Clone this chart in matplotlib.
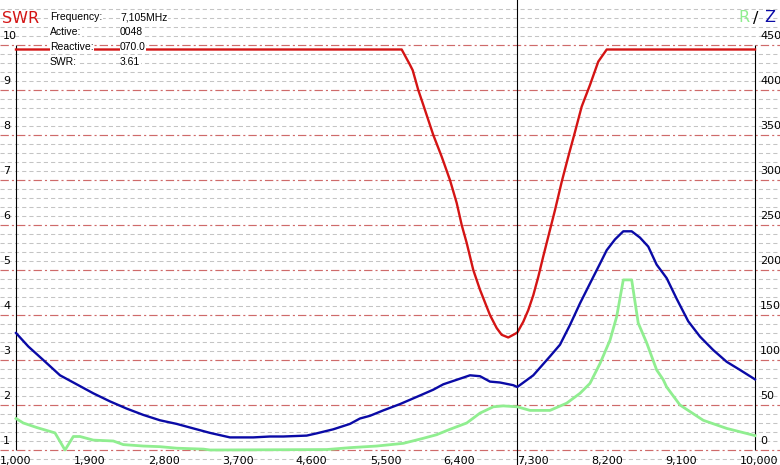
import numpy as np
import matplotlib
matplotlib.use("Agg")
import matplotlib.pyplot as plt
import matplotlib.transforms as mtransforms

# analyser sweep, frequency in kHz
swr_freq = [1000, 5697, 5798, 5831, 5899, 5960, 6082, 6184, 6285, 6367,
            6428, 6489, 6569, 6651, 6772, 6854, 6915, 6995, 7077, 7105,
            7178, 7239, 7300, 7361, 7421, 7503, 7564, 7646, 7726, 7808,
            7889, 7990, 8091, 8194, 10000]
swr_vals = [9.9, 9.9, 9.56, 9.44, 9.0, 8.67, 8.0, 7.52, 7.0, 6.49,
            6.0, 5.6, 5.0, 4.56, 4.0, 3.71, 3.56, 3.50, 3.58, 3.61,
            3.85, 4.11, 4.44, 4.85, 5.30, 5.89, 6.33, 6.96, 7.52, 8.07,
            8.63, 9.11, 9.63, 9.9, 9.9]

z_freq = [1000, 1150, 1332, 1536, 1739, 1941, 2145, 2348, 2550, 2754,
          2957, 3159, 3363, 3606, 3890, 4093, 4255, 4540, 4662, 4864,
          5067, 5189, 5311, 5473, 5676, 5880, 6082, 6204, 6367, 6529,
          6651, 6772, 6894, 7056, 7105, 7300, 7503, 7625, 7747, 7869,
          7990, 8112, 8194, 8295, 8396, 8498, 8599, 8700, 8802, 8924,
          9046, 9187, 9330, 9492, 9655, 9817, 10000]
z_vals = [130, 115, 100, 83, 73, 63, 54, 46, 39, 33,
          29, 24, 19, 14, 14, 15, 15, 16, 18.5, 23,
          29, 35, 38, 44, 51, 59, 67, 73, 78, 83,
          82, 76, 75, 72, 70, 83, 104, 117, 139, 163,
          185, 207, 222, 234, 243, 243, 236, 226, 206, 191,
          168, 143, 126, 111, 98, 89, 78.5]

r_freq = [1000, 1089, 1252, 1475, 1597, 1698, 1779, 1941, 2185, 2307,
          2550, 2754, 2957, 3281, 3363, 4784, 5067, 5393, 5717, 5960,
          6123, 6285, 6489, 6651, 6813, 6935, 7105, 7260, 7503, 7706,
          7869, 7990, 8112, 8234, 8315, 8396, 8498, 8578, 8681, 8802,
          8883, 8924, 9086, 9370, 9655, 10000]
r_vals = [35, 30, 25, 19, 0, 15, 15, 11, 10, 6,
          4.4, 3.7, 2, 1, 0, 0.5, 2.6, 4.4, 7.4, 13,
          17, 23, 30, 41, 48, 49, 48, 44, 44, 52,
          63, 74, 96, 122, 148, 189, 189, 141, 119, 89,
          78, 70, 50, 33, 24, 16]

freq_ticks = [1000, 1900, 2800, 3700, 4600, 5500, 6400, 7300, 8200, 9100, 10000]
swr_ticks = list(range(1, 11))
ohm_ticks = list(range(0, 451, 50))

cursor_freq = 7105
info_labels = ["Frequency:", "Active:", "Reactive:", "SWR:"]
info_values = ["7,105MHz", "0048", "070.0", "3.61"]

W, H = 780, 465
PX_L, PX_R = 16, 755          # pixel columns of 1,000 and 10,000
PX_TOP, PX_BOT = 45, 450      # pixel rows of SWR 10 and SWR 1

RED = "#d41414"
BLUE = "#0a0aa6"
GREEN = "#90ee90"

plt.rcParams["lines.scale_dashes"] = False

fig = plt.figure(figsize=(W / 100, H / 100), dpi=100)
ax = fig.add_axes([0, 0, 1, 1])
ax2 = ax.twinx()

kpp = 9000 / (PX_R - PX_L)
ax.set_xlim(1000 - PX_L * kpp, 10000 + (W - PX_R) * kpp)
spp = 9 / (PX_BOT - PX_TOP)
ax.set_ylim(1 - (H - PX_BOT) * spp, 10 + PX_TOP * spp)
opp = 450 / (PX_BOT - PX_TOP)
ax2.set_ylim(0 - (H - PX_BOT) * opp, 450 + PX_TOP * opp)
ax.axis("off")
ax2.axis("off")

# grid: light grey every 0.2 SWR, red dash-dot on whole numbers
for lvl in np.arange(0.8, 10.85, 0.2):
    if abs(lvl - round(lvl)) > 0.01:
        ax.axhline(lvl, color="#c4c4c4", lw=0.75, dashes=(3, 2.2), zorder=1)
for lvl in swr_ticks:
    ax.axhline(lvl, color="#cf6a6a", lw=0.85, dashes=(6, 2.2, 1.5, 2.2), zorder=1)

ax.vlines([1000, 10000], 1, 10, color="black", lw=0.8, zorder=2)
ax.axvline(cursor_freq, color="black", lw=0.8, zorder=5)

ax2.plot(r_freq, r_vals, color=GREEN, lw=2.0, zorder=3)
ax2.plot(z_freq, z_vals, color=BLUE, lw=1.7, zorder=3)
ax.plot(swr_freq, swr_vals, color=RED, lw=1.7, zorder=4)

# tick labels
left_tr = mtransforms.offset_copy(
    mtransforms.blended_transform_factory(ax.transAxes, ax.transData),
    fig=fig, x=0, y=6, units="dots")
for v in swr_ticks:
    ax.text(3 / W, v, str(v), transform=left_tr, fontsize=8,
            ha="left", va="baseline", zorder=6)

right_tr = mtransforms.offset_copy(
    mtransforms.blended_transform_factory(ax2.transAxes, ax2.transData),
    fig=fig, x=0, y=6, units="dots")
for v in ohm_ticks:
    ax2.text(760 / W, v, str(v), transform=right_tr, fontsize=8,
             ha="left", va="baseline", zorder=6)

bot_tr = mtransforms.blended_transform_factory(ax.transData, ax.transAxes)
last = mtransforms.blended_transform_factory(ax.transAxes, ax.transAxes)
for i, v in enumerate(freq_ticks):
    if i == len(freq_ticks) - 1:
        ax.text(778 / W, 1 - 463.5 / H, f"{v:,}", transform=last, fontsize=8,
                ha="right", va="baseline", zorder=6)
    else:
        ax.text(v, 1 - 463.5 / H, f"{v:,}", transform=bot_tr, fontsize=8,
                ha="center", va="baseline", zorder=6)

# header texts
fig.text(2 / W, 1 - 18.5 / H, "SWR", color=RED, fontsize=11.5,
         ha="left", va="center")
fig.text(738 / W, 1 - 18 / H, "R", color=GREEN, fontsize=11.5,
         ha="left", va="center")
fig.text(753 / W, 1 - 18 / H, "/", color="black", fontsize=11.5,
         ha="left", va="center")
fig.text(764 / W, 1 - 18 / H, "Z", color=BLUE, fontsize=11.5,
         ha="left", va="center")

for i, (lab, val) in enumerate(zip(info_labels, info_values)):
    yy = 1 - (17 + 15 * i) / H
    box = dict(facecolor="white", edgecolor="none", pad=0.3)
    fig.text(50 / W, yy, lab, fontsize=7.5, family="Liberation Sans",
             ha="left", va="center", bbox=box)
    fig.text(120 / W, yy, val, fontsize=7.5, family="Liberation Sans",
             ha="left", va="center", bbox=box)

fig.savefig("out.png", dpi=100, facecolor="white")
